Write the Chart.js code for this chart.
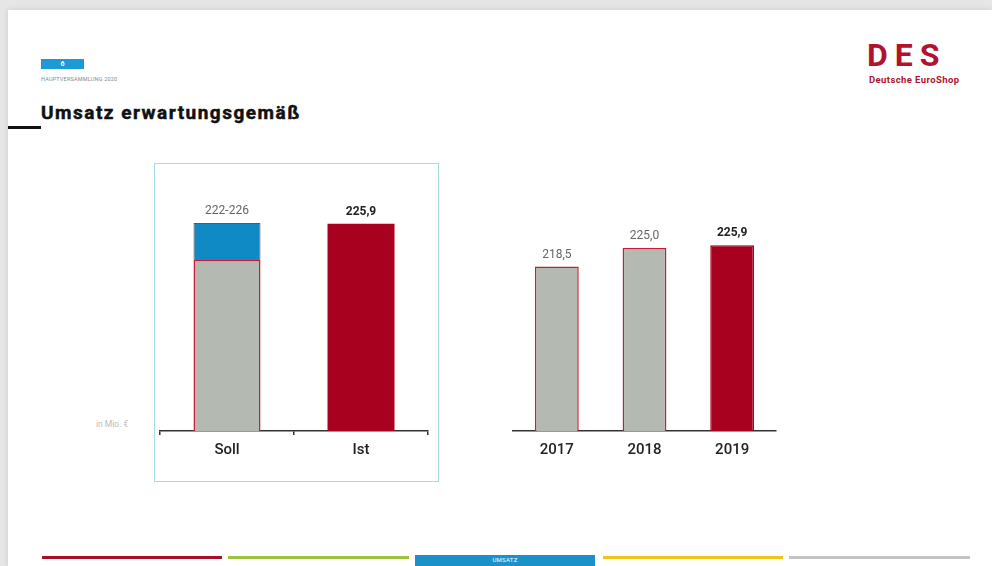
<!DOCTYPE html>
<html lang="de">
<head>
<meta charset="utf-8">
<title>Umsatz erwartungsgemäß</title>
<script src="https://cdn.jsdelivr.net/npm/chart.js@4/dist/chart.umd.min.js"></script>
<style>
  html, body { margin: 0; padding: 0; }
  body { width: 992px; height: 566px; background: #e6e6e6; position: relative; overflow: hidden; font-family: Roboto, "Liberation Sans", sans-serif; }
  .slide { position: absolute; left: 8px; top: 10px; width: 984px; height: 556px; background: #fff; box-shadow: 0 0 6px rgba(0,0,0,0.12); }
  .abs { position: absolute; }
  .page-tag { left: 41px; top: 59px; width: 43px; height: 10px; background: #1a9ad6; color: #fff; font-size: 7px; font-weight: bold; text-align: center; line-height: 10px; }
  .event { left: 41px; top: 76px; font-size: 5.5px; color: #888; letter-spacing: 0.2px; }
  .title { left: 41px; top: 101px; font-size: 19px; font-weight: bold; color: #111; letter-spacing: 1.5px; -webkit-text-stroke: 0.5px #111; }
  .title-rule { left: 8px; top: 126px; width: 33px; height: 3px; background: #111; }
  .logo { left: 867px; top: 36px; font-size: 32px; color: #b3122f; letter-spacing: 7px; font-weight: bold; }
  .logo-sub { left: 869px; top: 74px; font-size: 9.5px; color: #b3122f; font-weight: bold; letter-spacing: 0.4px; }
  .box { left: 154px; top: 163px; width: 283px; height: 317px; border: 1px solid #a8dbe8; }
  .unit { left: 96px; top: 419px; font-size: 8.5px; color: #bbb; }
  .bar { top: 556px; height: 3px; }
  .tab { left: 415px; top: 555px; width: 180px; height: 11px; background: #1b91c9; color: #fff; font-size: 6px; text-align: center; line-height: 10px; letter-spacing: 0.3px; }
  canvas { position: absolute; }
</style>
</head>
<body>
<div class="slide"></div>
<div class="abs page-tag">6</div>
<div class="abs event">HAUPTVERSAMMLUNG 2020</div>
<div class="abs title">Umsatz erwartungsgemäß</div>
<div class="abs title-rule"></div>
<div class="abs logo">DES</div>
<div class="abs logo-sub">Deutsche EuroShop</div>
<div class="abs box"></div>
<div class="abs unit">in Mio. €</div>

<div class="abs bar" style="left:42px;width:180px;background:#a5102a"></div>
<div class="abs bar" style="left:228px;width:181px;background:#9dc23b"></div>
<div class="abs tab">UMSATZ</div>
<div class="abs bar" style="left:603px;width:180px;background:#f0c419"></div>
<div class="abs bar" style="left:789px;width:181px;background:#c4c4c4"></div>

<canvas id="planChart" style="left:154px;top:163px;width:284px;height:318px" width="284" height="318"></canvas>
<canvas id="yearChart" style="left:500px;top:163px;width:300px;height:318px" width="300" height="318"></canvas>

<script>
// plan vs actual (Mio. €)
const planLabels = ['Soll', 'Ist'];
const planLow = 222;
const planHigh = 226;
const actualValue = 225.9;

// revenue by year (Mio. €)
const yearLabels = ['2017', '2018', '2019'];
const yearValues = [218.5, 225.0, 225.9];

const GREY = '#b4b9b2';
const RED = '#a8001f';
const EDGE = '#c81c36';
const BLUE = '#0f8ac4';

const fmt = v => v.toFixed(1).replace('.', ',');

// draws the value text above each bar
const valueLabels = {
  id: 'valueLabels',
  afterDatasetsDraw(chart) {
    const ctx = chart.ctx;
    const items = chart.options.plugins.valueLabels.items;
    ctx.save();
    ctx.textAlign = 'center';
    ctx.textBaseline = 'middle';
    items.forEach(it => {
      const bar = chart.getDatasetMeta(it.dataset).data[it.index];
      ctx.font = (it.bold ? 'bold ' : '') + '12px Roboto, sans-serif';
      ctx.fillStyle = it.bold ? '#222' : '#666';
      ctx.fillText(it.text, bar.x, bar.y - 12);
    });
    ctx.restore();
  }
};

const xAxis = (ticks) => ({
  offset: true,
  border: { display: true, color: '#333', width: 1.5 },
  grid: { display: true, drawOnChartArea: false, offset: true, color: '#333', lineWidth: 1.5, tickLength: ticks ? 4 : 0, drawTicks: ticks },
  ticks: { color: '#222', font: { size: 15, family: 'Roboto', weight: 500 }, padding: ticks ? 6 : 10 }
});

const LEFT_MIN = 203.6, LEFT_MAX = 230.3;
new Chart(document.getElementById('planChart'), {
  type: 'bar',
  data: {
    labels: planLabels,
    datasets: [
      { data: [[LEFT_MIN, planLow], null], backgroundColor: GREY, borderColor: EDGE, borderWidth: 1.5, borderSkipped: 'bottom' },
      { data: [[planLow, planHigh], null], backgroundColor: BLUE, borderColor: '#9a3a4a', borderWidth: 1, borderSkipped: 'bottom' },
      { data: [null, [LEFT_MIN, actualValue]], backgroundColor: RED, borderWidth: 0 }
    ]
  },
  options: {
    responsive: false,
    animation: false,
    grouped: false,
    skipNull: true,
    barPercentage: 0.5,
    categoryPercentage: 1,
    layout: { padding: { left: 6, right: 10, top: 20, bottom: 16 } },
    scales: {
      x: xAxis(true),
      y: { display: false, min: LEFT_MIN, max: LEFT_MAX }
    },
    plugins: {
      legend: { display: false },
      tooltip: { enabled: false },
      valueLabels: { items: [
        { dataset: 1, index: 0, text: planLow + '-' + planHigh, bold: false },
        { dataset: 2, index: 1, text: fmt(actualValue), bold: true }
      ] }
    }
  },
  plugins: [valueLabels]
});

const RIGHT_MIN = 161, RIGHT_MAX = 247.7;
new Chart(document.getElementById('yearChart'), {
  type: 'bar',
  data: {
    labels: yearLabels,
    datasets: [{
      data: yearValues.map(v => [RIGHT_MIN, v]),
      backgroundColor: yearValues.map((v, i) => i === yearValues.length - 1 ? RED : GREY),
      borderColor: yearValues.map((v, i) => i === yearValues.length - 1 ? RED : EDGE),
      borderWidth: 1.5,
      borderSkipped: 'bottom'
    }]
  },
  options: {
    responsive: false,
    animation: false,
    barPercentage: 0.5,
    categoryPercentage: 1,
    layout: { padding: { left: 13, right: 24, top: 20, bottom: 12 } },
    scales: {
      x: xAxis(false),
      y: { display: false, min: RIGHT_MIN, max: RIGHT_MAX }
    },
    plugins: {
      legend: { display: false },
      tooltip: { enabled: false },
      valueLabels: { items: yearValues.map((v, i) => ({ dataset: 0, index: i, text: fmt(v), bold: i === yearValues.length - 1 })) }
    }
  },
  plugins: [valueLabels]
});
</script>
</body>
</html>
